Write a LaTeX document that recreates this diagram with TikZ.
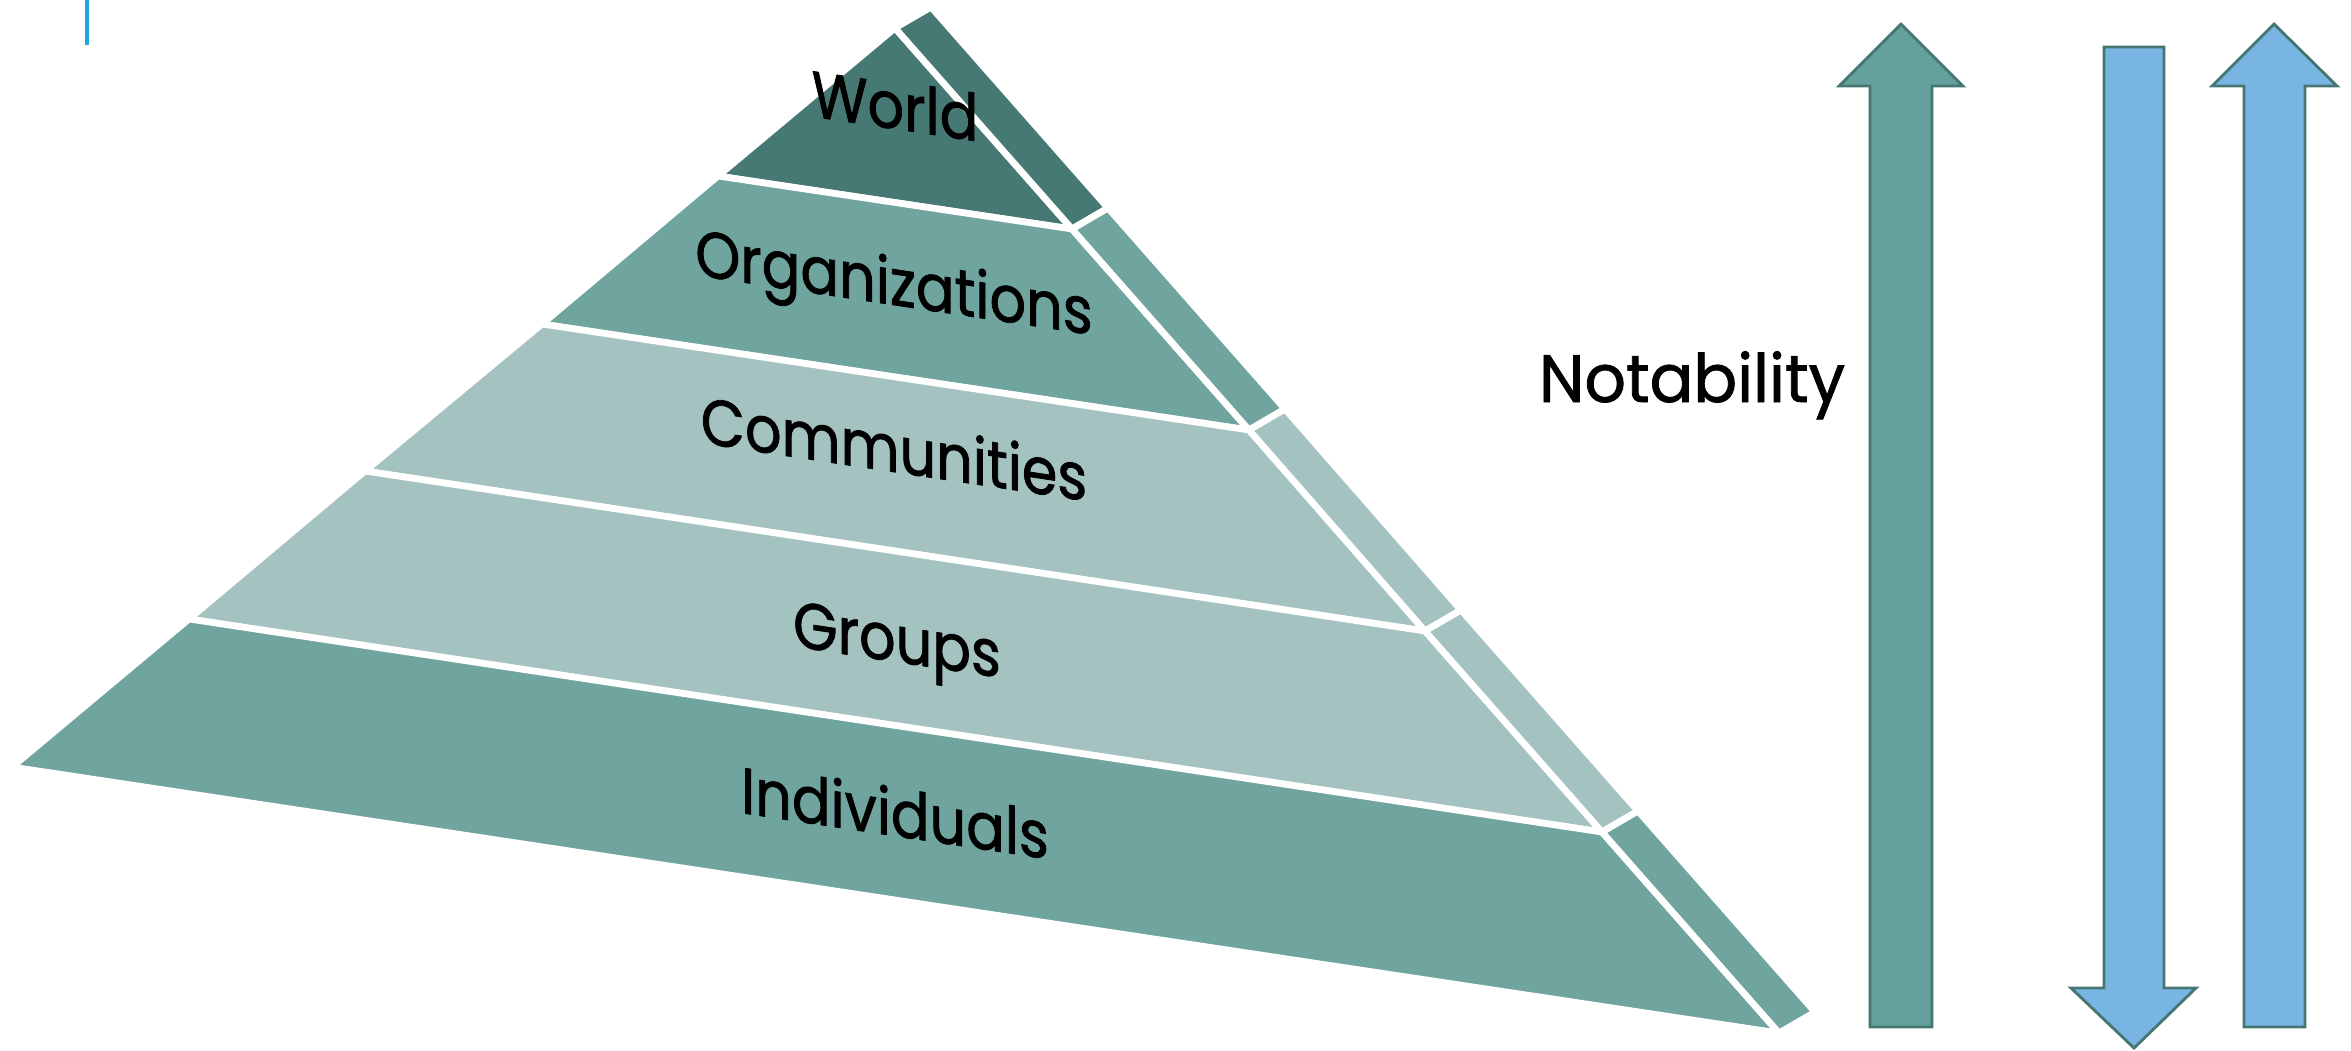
\documentclass[tikz,border=0pt]{standalone}
\usepackage{fontspec}
\usepackage{tikz}
\newfontfamily\pyrfont{Poppins}[FakeStretch=0.88, FakeBold=1.2]
\newfontfamily\notefont{Poppins}[FakeStretch=0.97, FakeBold=1.2]

\definecolor{pyrdark}{RGB}{70,120,116}
\definecolor{pyrmid}{RGB}{111,164,159}
\definecolor{pyrlight}{RGB}{164,194,192}
\definecolor{arrowteal}{RGB}{100,161,157}
\definecolor{arrowblue}{RGB}{120,181,227}
\definecolor{arrowedge}{RGB}{70,118,114}
\definecolor{accentblue}{RGB}{28,167,225}

\tikzset{
  band/.style={draw=white, line width=1.9pt, line join=bevel},
  pyrlabel/.style={anchor=base, yslant=-0.15, inner sep=0pt,
    font=\pyrfont\fontsize{18.5}{20}\selectfont},
  tealarrow/.style={fill=arrowteal, draw=arrowedge, line width=0.8pt},
  bluearrow/.style={fill=arrowblue, draw=arrowedge, line width=0.8pt}
}

\begin{document}
\begin{tikzpicture}[x=0.01cm,y=-0.01cm]
\useasboundingbox (0,0) rectangle (2351,1050);
\draw[accentblue, line width=1.1pt] (87,0) -- (87,45);
%
% World
\filldraw[band, fill=pyrdark] (895,28) -- (1072,229) -- (718,176) -- cycle;
\filldraw[band, fill=pyrdark] (895,28) -- (931,7) -- (1108,208) -- (1072,229) -- cycle;
% Organizations
\filldraw[band, fill=pyrmid] (718,176) -- (1072,229) -- (1249,430) -- (542,324) -- cycle;
\filldraw[band, fill=pyrmid] (1072,229) -- (1108,208) -- (1285,409) -- (1249,430) -- cycle;
% Communities
\filldraw[band, fill=pyrlight] (542,324) -- (1249,430) -- (1425,631) -- (365,471) -- cycle;
\filldraw[band, fill=pyrlight] (1249,430) -- (1285,409) -- (1461,610) -- (1425,631) -- cycle;
% Groups
\filldraw[band, fill=pyrlight] (365,471) -- (1425,631) -- (1602,832) -- (189,619) -- cycle;
\filldraw[band, fill=pyrlight] (1425,631) -- (1461,610) -- (1638,811) -- (1602,832) -- cycle;
% Individuals
\filldraw[band, fill=pyrmid] (189,619) -- (1602,832) -- (1779,1033) -- (12,767) -- cycle;
\filldraw[band, fill=pyrmid] (1602,832) -- (1638,811) -- (1815,1012) -- (1779,1033) -- cycle;
%
\node[pyrlabel] (world) at (895,129) {World};
\node[pyrlabel] (orgs) at (894,305) {Organizations};
\node[pyrlabel] (comms) at (894,472) {Communities};
\node[pyrlabel] (groups) at (897,662) {Groups};
\node[pyrlabel] (indiv) at (895,836) {Individuals};
%
\node[anchor=base, inner sep=0pt, font=\notefont\fontsize{19}{21}\selectfont] (notability) at (1692,402) {Notability};
%
% arrows
\filldraw[tealarrow] (1901,24) -- (1963,86) -- (1932,86) -- (1932,1027) -- (1870,1027) -- (1870,86) -- (1839,86) -- cycle;
\filldraw[bluearrow] (2104,47) -- (2164,47) -- (2164,988) -- (2196,988) -- (2134,1048) -- (2071,988) -- (2104,988) -- cycle;
\filldraw[bluearrow] (2274,24) -- (2337,86) -- (2305,86) -- (2305,1027) -- (2244,1027) -- (2244,86) -- (2212,86) -- cycle;
\end{tikzpicture}
\end{document}
